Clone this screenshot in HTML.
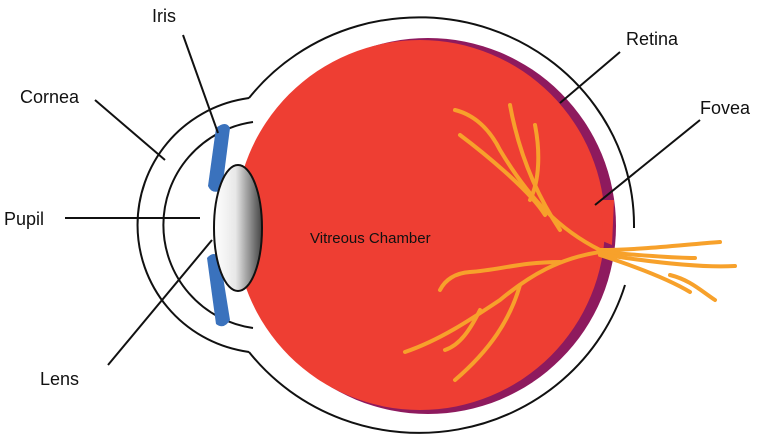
<!DOCTYPE html>
<html><head><meta charset="utf-8"><style>
body{margin:0;background:#fff;}
svg{display:block}
text{font-family:"Liberation Sans",sans-serif;fill:#111}
</style></head><body>
<svg width="765" height="438" viewBox="0 0 765 438" xmlns="http://www.w3.org/2000/svg">
<defs>
<linearGradient id="lg" x1="0" x2="1" y1="0" y2="0">
<stop offset="0" stop-color="#fff"/><stop offset="0.45" stop-color="#e8e8e8"/><stop offset="1" stop-color="#444"/>
</linearGradient>
</defs>
<path d="M249,98 A215,208 0 0 1 634,228" fill="none" stroke="#111" stroke-width="2"/>
<path d="M625,285 A215,208 0 0 1 249,352" fill="none" stroke="#111" stroke-width="2"/>
<path d="M249,98 L243,99 A128,128 0 0 0 243,351 L249,352" fill="none" stroke="#111" stroke-width="2"/>
<path d="M253,122 A104,104 0 0 0 253,328" fill="none" stroke="#111" stroke-width="2"/>
<circle cx="428" cy="226" r="188" fill="#8e1a5e"/>
<circle cx="420" cy="225" r="185" fill="#ee3e33"/>
<path d="M596,200 Q606,215 600,240 L612,245 L614,200 Z" fill="#ee3e33"/>
<path d="M216,128 Q226,120 230,128 L222,190 Q212,195 208,186 Z" fill="#3a72bd"/>
<path d="M207,258 Q214,250 220,258 L230,320 Q224,330 216,324 Z" fill="#3a72bd"/>
<ellipse cx="238" cy="228" rx="24" ry="63" fill="url(#lg)" stroke="#111" stroke-width="2"/>
<g fill="none" stroke="#f7a12b" stroke-width="4" stroke-linecap="round">
<path d="M600,250 C560,230 530,200 500,150 C490,130 475,115 455,110"/>
<path d="M560,230 C540,200 520,160 510,105"/>
<path d="M545,215 C530,190 480,150 460,135"/>
<path d="M530,200 C540,180 540,150 535,125"/>
<path d="M600,252 C560,258 530,275 500,300 C470,320 440,340 405,352"/>
<path d="M560,262 C520,262 500,270 470,272 C455,273 445,280 440,290"/>
<path d="M520,285 C510,320 490,350 455,380"/>
<path d="M480,310 C470,330 460,345 445,350"/>
<path d="M600,250 C640,250 680,245 720,242"/>
<path d="M600,252 C640,255 670,258 695,258"/>
<path d="M600,254 C650,262 700,268 735,266"/>
<path d="M600,255 C640,268 670,280 690,292"/>
<path d="M670,275 C690,280 700,290 715,300"/>
</g>
<g stroke="#111" stroke-width="2">
<line x1="183" y1="35" x2="218" y2="133"/>
<line x1="95" y1="100" x2="165" y2="160"/>
<line x1="65" y1="218" x2="200" y2="218"/>
<line x1="108" y1="365" x2="212" y2="240"/>
<line x1="620" y1="52" x2="560" y2="103"/>
<line x1="700" y1="120" x2="595" y2="205"/>
</g>
<text x="152" y="22" font-size="18">Iris</text>
<text x="20" y="103" font-size="18">Cornea</text>
<text x="4" y="225" font-size="18">Pupil</text>
<text x="40" y="385" font-size="18">Lens</text>
<text x="626" y="45" font-size="18">Retina</text>
<text x="700" y="114" font-size="18">Fovea</text>
<text x="310" y="243" font-size="15">Vitreous Chamber</text>
</svg>
</body></html>
